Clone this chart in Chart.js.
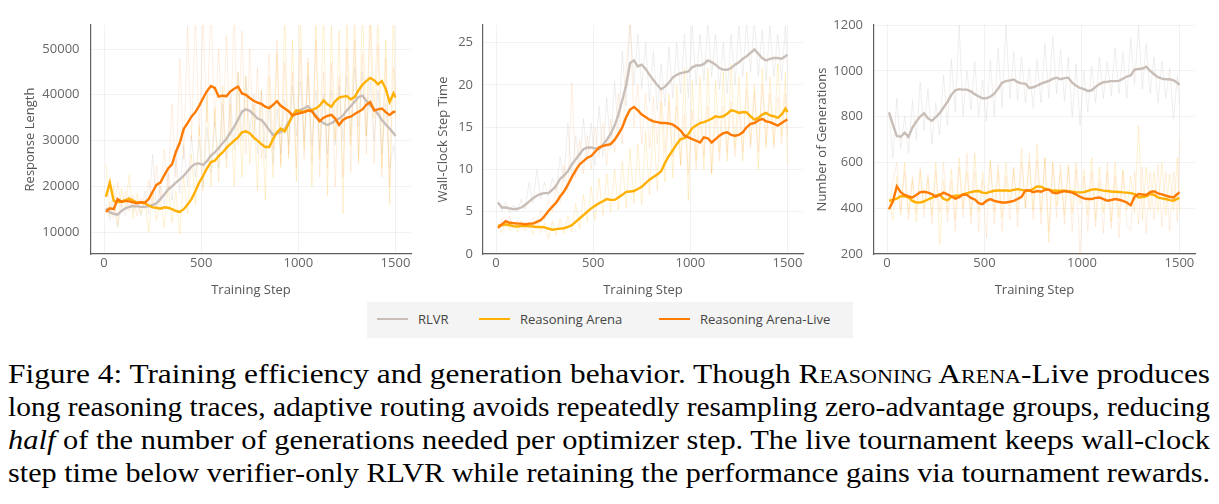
<!DOCTYPE html>
<html>
<head>
<meta charset="utf-8">
<script src="https://cdn.jsdelivr.net/npm/chart.js@4"></script>
<style>
  html, body { margin: 0; padding: 0; background: #fff; }
  body { width: 1219px; height: 504px; position: relative; overflow: hidden; }
  canvas { position: absolute; top: 0; }
  #legend { position: absolute; left: 367px; top: 302px; width: 486px; height: 36px; background: #f4f4f4;
            font-family: 'Open Sans', sans-serif; font-size: 13px; color: #444; }
  #legend .sw { position: absolute; top: 16px; width: 31px; height: 2px; }
  #legend .lb { position: absolute; top: 8px; line-height: 18px; }
  #caption { position: absolute; left: 8px; top: 358px; width: 1202px;
             font-family: 'Liberation Serif', 'Times New Roman', serif; font-size: 27px; line-height: 33px; color: #000; }
  #caption .ln { white-space: nowrap; width: max-content; transform-origin: 0 0; }
  .sc { font-variant: small-caps; }
</style>
</head>
<body>
<canvas id="lenChart" width="412" height="300" style="left:0px"></canvas>
<canvas id="timeChart" width="394" height="300" style="left:410px"></canvas>
<canvas id="genChart" width="386" height="300" style="left:810px"></canvas>

<div id="legend">
  <div class="sw" style="left:10px;background:#c8beb7"></div><div class="lb" style="left:51px">RLVR</div>
  <div class="sw" style="left:112px;background:#ffb000"></div><div class="lb" style="left:153px">Reasoning Arena</div>
  <div class="sw" style="left:292px;background:#ff7a00"></div><div class="lb" style="left:333px">Reasoning Arena-Live</div>
</div>

<div id="caption">
  <div class="ln">Figure 4: Training efficiency and generation behavior. Though <span class="sc">Reasoning Arena</span>-Live produces</div>
  <div class="ln">long reasoning traces, adaptive routing avoids repeatedly resampling zero-advantage groups, reducing</div>
  <div class="ln"><i>half</i> of the number of generations needed per optimizer step. The live tournament keeps wall-clock</div>
  <div class="ln">step time below verifier-only RLVR while retaining the performance gains via tournament rewards.</div>
</div>

<script>
// training steps shared by every series
const steps = [10,30,50,70,90,110,130,150,170,190,
  210,230,250,270,290,310,330,350,370,390,
  410,430,450,470,490,510,530,550,570,590,
  610,630,650,670,690,710,730,750,770,790,
  810,830,850,870,890,910,930,950,970,990,
  1010,1030,1050,1070,1090,1110,1130,1150,1170,1190,
  1210,1230,1250,1270,1290,1310,1330,1350,1370,1390,
  1410,1430,1450,1470,1490,1500];

// tick labels
const stepTicks = [0, 500, 1000, 1500];
const lenTicks = [10000, 20000, 30000, 40000, 50000];
const timeTicks = [0, 5, 10, 15, 20, 25];
const genTicks = [200, 400, 600, 800, 1000, 1200];

// Response length (smoothed + raw)
const rlvrLen = [15200,14300,14000,13800,14600,15200,15500,15700,15600,15500,
  15500,15700,15900,16300,17200,18200,19300,20000,20800,21500,
  22300,23300,24300,24900,25000,24700,25500,26700,27400,28400,
  29400,30400,31700,33000,34600,36300,36800,36500,35700,34800,
  34500,33500,32300,31200,31500,31900,32500,34000,35200,36200,
  36700,37000,37500,36600,35500,34500,33800,33400,33800,34300,
  34800,35500,36600,37500,38500,39500,39800,38700,37700,36900,
  35800,34500,33500,32600,31600,31000];
const arenaLen = [17700,20800,16800,16500,16700,17000,17300,16900,16400,16500,
  16300,15800,15400,15300,15100,15400,15300,15000,14600,14400,
  15000,16000,17200,18900,20800,22300,23900,25300,25600,26600,
  27400,28400,29200,30000,30700,31800,32000,31600,30700,30000,
  29200,28600,28600,30300,31800,32600,32000,33600,35500,36600,
  36400,36300,36500,36700,37000,37600,38800,37900,37400,38600,
  39400,39600,39700,39000,39500,41000,42200,43000,43700,43200,
  42300,43000,41300,38400,40300,39400];
const liveLen = [14400,15200,15000,17200,16600,16800,16700,16500,16300,16500,
  16400,17200,18800,20300,20800,22400,23900,24800,27500,29500,
  32500,33800,35200,36200,37600,39300,40800,41900,41500,39600,
  39800,39700,40700,41300,41800,40300,40000,39300,38700,38300,
  38000,37400,37100,37800,38600,37600,37000,36400,35500,35800,
  36000,36200,36600,36400,35200,34200,35000,35400,35600,34800,
  33400,34500,35000,35200,35800,36300,36800,37800,38400,36600,
  36800,37000,36200,35600,36300,36200];
const rlvrLenRaw = [16000,12500,17000,11000,16000,13500,18000,14500,17000,13500,
  19000,14000,27000,15000,20000,16000,23000,17000,26000,18500,
  29000,20000,31000,22000,30000,20000,33000,23000,34000,24000,
  38000,26000,40000,28000,45000,30000,44000,32000,40000,27000,
  41000,26000,38000,25000,37000,27000,39000,29000,42000,31000,
  43000,30000,44000,29000,41000,28000,40000,27000,41000,29000,
  42000,30000,44000,31000,46000,33000,45000,31000,43000,30000,
  41000,27000,38000,24000,29000,26000];
const arenaLenRaw = [25000,13500,20000,11500,19500,15000,22500,13000,18500,14000,
  17000,10000,19000,12500,17500,11000,20000,12000,19000,9500,
  22000,14000,27000,16000,33000,19000,40000,20000,37000,21000,
  42000,24000,38000,20000,45000,22000,44000,25000,38000,19000,
  41000,17000,44000,22000,49000,24000,58000,26000,52000,21000,
  58000,28000,47000,20000,56000,26000,60000,18000,55000,30000,
  54000,14000,58000,29000,57000,25000,60000,31000,60000,35000,
  58000,24000,52000,16000,60000,35000];
const liveLenRaw = [14000,16500,13000,21000,15500,19000,14500,18000,13500,17500,
  15000,21500,16000,24500,17500,28000,19500,38000,22000,48000,
  26000,55000,30000,58000,31000,56000,34000,60000,33000,50000,
  30000,53000,31000,58000,29000,54000,27000,50000,30000,46000,
  26000,33000,49000,28000,52000,25000,47000,27000,45000,24000,
  50000,26000,48000,25000,52000,22000,45000,24000,47000,20000,
  44000,22000,50000,23000,52000,26000,49000,27000,56000,25000,
  51000,22000,48000,20000,46000,40000];

// Wall-clock step time
const rlvrTime = [6.1,5.5,5.5,5.4,5.3,5.35,5.5,5.8,6.2,6.6,
  6.9,7.1,7.2,7.2,7.6,8.1,8.9,9.3,9.8,10.6,
  11.2,11.8,12.4,12.6,12.6,12.5,12.4,12.9,13.5,14.2,
  15.2,16.5,18.2,20.0,22.6,22.9,22.2,22.4,21.9,21.2,
  20.6,20.0,19.5,19.8,20.3,20.9,21.2,21.4,21.5,21.6,
  22.1,22.3,22.3,22.5,22.9,22.7,22.4,22.0,21.8,21.8,
  22.0,22.4,22.7,23.1,23.4,23.8,24.2,23.7,23.2,22.9,
  23.1,23.2,23.2,23.1,23.4,23.6];
const arenaTime = [3.35,3.4,3.5,3.4,3.3,3.25,3.3,3.35,3.3,3.25,
  3.2,3.2,3.15,3.0,2.87,2.95,3.0,3.05,3.2,3.4,
  3.8,4.2,4.6,5.0,5.4,5.7,6.0,6.25,6.5,6.4,
  6.4,6.7,7.0,7.35,7.4,7.45,7.7,7.95,8.4,8.8,
  9.1,9.4,9.8,10.8,11.6,12.3,13.0,13.6,13.7,14.2,
  14.9,15.2,15.5,15.6,15.8,16.0,16.3,16.2,16.3,16.6,
  17.0,16.9,16.7,16.8,16.75,16.3,15.9,16.1,16.5,16.7,
  16.4,16.3,16.1,16.5,17.2,16.8];
const liveTime = [3.1,3.5,3.9,3.7,3.65,3.6,3.6,3.5,3.6,3.6,
  3.8,4.0,4.5,5.1,5.6,6.1,6.8,7.4,8.2,9.1,
  9.9,10.6,11.0,11.4,11.6,12.1,12.6,12.8,12.9,13.0,
  13.5,14.2,15.0,16.2,17.1,17.4,17.0,16.5,16.2,15.9,
  15.7,15.6,15.5,15.5,15.45,15.3,15.0,14.6,14.0,13.8,
  13.6,13.4,13.2,13.8,13.7,13.2,13.6,14.0,14.3,14.4,
  14.1,14.0,14.1,14.4,15.0,15.4,15.5,15.8,16.0,15.7,
  15.6,15.4,15.2,15.5,15.8,15.9];
const rlvrTimeRaw = [6.5,5.0,6.2,4.9,5.8,5.0,6.5,5.3,8.5,6.0,
  10.0,6.5,8.5,6.8,9.0,7.5,11.5,8.5,15.5,9.0,
  14.0,10.5,16.0,11.0,15.5,10.5,17.5,11.5,18.5,12.5,
  20.5,14.0,24.0,17.5,27.5,20.0,26.0,19.5,25.0,18.0,
  24.0,17.0,22.5,17.5,24.5,18.5,25.0,19.0,26.0,18.5,
  27.0,20.0,26.0,20.5,27.5,21.0,26.0,19.5,25.0,19.0,
  26.0,20.0,27.0,21.0,27.5,21.5,28.0,21.0,26.5,20.5,
  27.0,21.0,26.0,20.5,27.0,21.5];
const arenaTimeRaw = [3.5,2.5,4.0,2.8,3.8,2.6,3.9,2.7,3.6,2.3,
  4.0,2.5,3.7,1.8,3.9,2.2,4.2,2.4,4.5,2.6,
  6.0,3.0,7.0,3.8,8.0,4.0,9.0,4.6,9.5,5.0,
  10.0,5.2,11.0,5.5,12.5,6.0,13.0,5.8,14.5,7.0,
  16.0,7.5,18.0,8.5,19.0,9.0,20.0,10.5,22.0,6.3,
  20.5,11.0,21.0,10.0,22.0,9.5,20.5,12.0,21.5,11.0,
  22.5,12.5,21.0,11.0,21.5,13.0,20.0,10.0,22.0,12.5,
  21.0,13.0,22.5,14.0,21.5,10.5];
const liveTimeRaw = [3.0,4.2,3.2,4.5,3.0,4.0,3.2,3.9,3.0,4.3,
  3.5,5.2,4.0,6.5,5.0,8.2,6.0,10.5,7.5,20.3,
  9.0,13.5,9.5,14.0,10.0,15.0,11.5,15.5,10.5,16.0,
  12.0,19.0,13.0,22.0,28.0,15.0,20.0,13.0,19.0,12.5,
  18.5,13.0,19.5,12.0,18.0,11.5,17.5,10.5,16.5,9.5,
  17.0,10.0,16.0,11.5,17.5,9.5,16.5,11.0,17.5,12.0,
  18.0,11.5,17.0,12.0,19.5,12.5,19.0,12.0,20.0,13.0,
  19.0,12.5,18.5,13.0,19.0,14.0];

// Number of generations
const rlvrGen = [818,765,715,712,730,712,752,778,800,815,
  792,782,798,815,840,864,895,915,920,918,
  918,910,898,888,880,880,887,900,922,948,
  955,958,962,950,945,944,925,928,935,944,
  950,956,965,970,963,968,970,948,935,925,
  920,912,915,930,942,950,952,955,955,956,
  965,975,980,1005,1008,1010,1018,1000,985,972,
  966,963,963,958,948,938];
const arenaGen = [432,436,442,452,452,447,432,425,425,430,
  438,445,455,460,440,435,450,455,455,460,
  466,470,474,475,468,466,472,476,477,478,
  477,476,480,483,480,476,476,485,495,494,
  485,480,477,476,476,476,474,472,470,469,
  470,476,481,483,480,477,475,473,472,471,
  469,468,466,462,447,449,452,462,458,447,
  443,440,435,433,442,444];
const liveGen = [395,430,495,470,458,452,447,458,470,472,
  468,462,450,458,468,460,452,442,448,460,
  458,445,438,422,418,432,440,432,428,425,
  425,428,432,440,450,478,478,470,475,472,
  480,482,468,465,470,475,472,468,460,450,
  443,440,440,445,447,440,433,436,440,437,
  432,425,413,450,462,460,458,470,474,465,
  460,455,450,447,462,470];
const rlvrGenRaw = [820,620,880,660,800,640,870,700,950,740,
  920,680,860,720,980,760,1050,820,1200,800,
  1000,830,1040,800,960,780,1050,800,1100,840,
  1200,880,1080,870,1060,860,1010,840,1050,860,
  1120,880,1150,900,1090,870,1060,800,1030,760,
  1000,820,1020,860,1060,880,1040,890,1100,900,
  1080,880,1140,940,1200,920,1120,900,1060,860,
  1040,880,1010,790,980,860];
const arenaGenRaw = [450,350,540,370,600,380,520,340,560,400,
  530,370,600,240,520,380,570,350,620,400,
  560,370,640,380,560,420,610,380,590,360,
  600,410,570,380,660,400,600,390,680,380,
  620,250,600,410,560,370,590,380,600,420,
  570,370,620,350,580,380,560,340,600,360,
  570,390,540,380,760,350,580,390,560,380,
  600,370,550,390,620,380];
const liveGenRaw = [380,520,600,390,560,350,540,380,580,360,
  550,330,560,380,600,340,520,300,580,360,
  640,330,560,300,520,270,600,330,560,300,
  540,350,580,320,600,400,640,350,610,330,
  620,300,600,360,590,330,580,300,570,200,
  540,300,560,320,520,290,600,310,540,270,
  560,330,300,560,330,580,290,560,350,590,
  320,560,300,560,340,700];

const RLVR = '#c8beb7', ARENA = '#ffb000', LIVE = '#ff7a00';
const GRID = 'rgba(0,0,0,0.05)', AXIS = '#5f5f5f', TICK = '#666', TITLE = '#555';
const FONT = { family: "'Open Sans', sans-serif", size: 13 };

// fit each caption line to the full justified width
document.querySelectorAll('#caption .ln').forEach(el => {
  const w = el.getBoundingClientRect().width;
  el.style.transform = 'scaleX(' + (1202 / w) + ')';
});

function series(vals, color, width) {
  return {
    data: steps.map((s, i) => ({ x: s, y: vals[i] })),
    borderColor: color, borderWidth: width,
    pointRadius: 0, fill: false, tension: 0
  };
}

function makePanel(id, p) {
  new Chart(document.getElementById(id), {
    type: 'line',
    data: {
      datasets: [
        series(p.live, LIVE, 2.4),
        series(p.arena, ARENA, 2.4),
        series(p.rlvr, RLVR, 2.4),
        series(p.liveRaw, 'rgba(255,122,0,0.12)', 1),
        series(p.arenaRaw, 'rgba(255,176,0,0.18)', 1),
        series(p.rlvrRaw, 'rgba(200,190,183,0.25)', 1)
      ]
    },
    options: {
      responsive: false, animation: false, events: [],
      layout: { padding: { top: 25, right: 1, left: 0, bottom: 0 } },
      plugins: { legend: { display: false }, tooltip: { enabled: false } },
      scales: {
        x: {
          type: 'linear', min: -67, max: 1580,
          afterFit: s => { s.height = 46; },
          afterBuildTicks: s => { s.ticks = stepTicks.map(v => ({ value: v })); },
          grid: { color: GRID, drawTicks: false },
          border: { color: AXIS, width: 1.2 },
          ticks: { padding: 1.5, color: TICK, font: FONT, maxRotation: 0, autoSkip: false,
                   callback: v => String(v) },
          title: { display: true, text: 'Training Step', color: TITLE, font: FONT, padding: { top: 0, bottom: 2 } }
        },
        y: {
          min: p.yMin, max: p.yMax,
          afterFit: s => { s.width = p.yWidth; },
          afterBuildTicks: s => { s.ticks = p.yTicks.map(v => ({ value: v })); },
          grid: { color: GRID, drawTicks: false },
          border: { color: AXIS, width: 1.2 },
          ticks: { padding: p.tickPad, color: TICK, font: FONT, autoSkip: false,
                   callback: v => String(v) },
          title: { display: true, text: p.yTitle, color: TITLE, font: FONT, padding: { top: p.titlePad, bottom: 0 } }
        }
      }
    }
  });
}

makePanel('lenChart', {
  rlvr: rlvrLen, arena: arenaLen, live: liveLen,
  rlvrRaw: rlvrLenRaw, arenaRaw: arenaLenRaw, liveRaw: liveLenRaw,
  yMin: 5200, yMax: 55250, yTicks: lenTicks, yWidth: 91, tickPad: 11.5, titlePad: 22,
  yTitle: 'Response Length'
});
makePanel('timeChart', {
  rlvr: rlvrTime, arena: arenaTime, live: liveTime,
  rlvrRaw: rlvrTimeRaw, arenaRaw: arenaTimeRaw, liveRaw: liveTimeRaw,
  yMin: 0, yMax: 27.1, yTicks: timeTicks, yWidth: 73, tickPad: 10, titlePad: 25,
  yTitle: 'Wall-Clock Step Time'
});
makePanel('genChart', {
  rlvr: rlvrGen, arena: arenaGen, live: liveGen,
  rlvrRaw: rlvrGenRaw, arenaRaw: arenaGenRaw, liveRaw: liveGenRaw,
  yMin: 200, yMax: 1200, yTicks: genTicks, yWidth: 64, tickPad: 11, titlePad: 4,
  yTitle: 'Number of Generations'
});
</script>
</body>
</html>
